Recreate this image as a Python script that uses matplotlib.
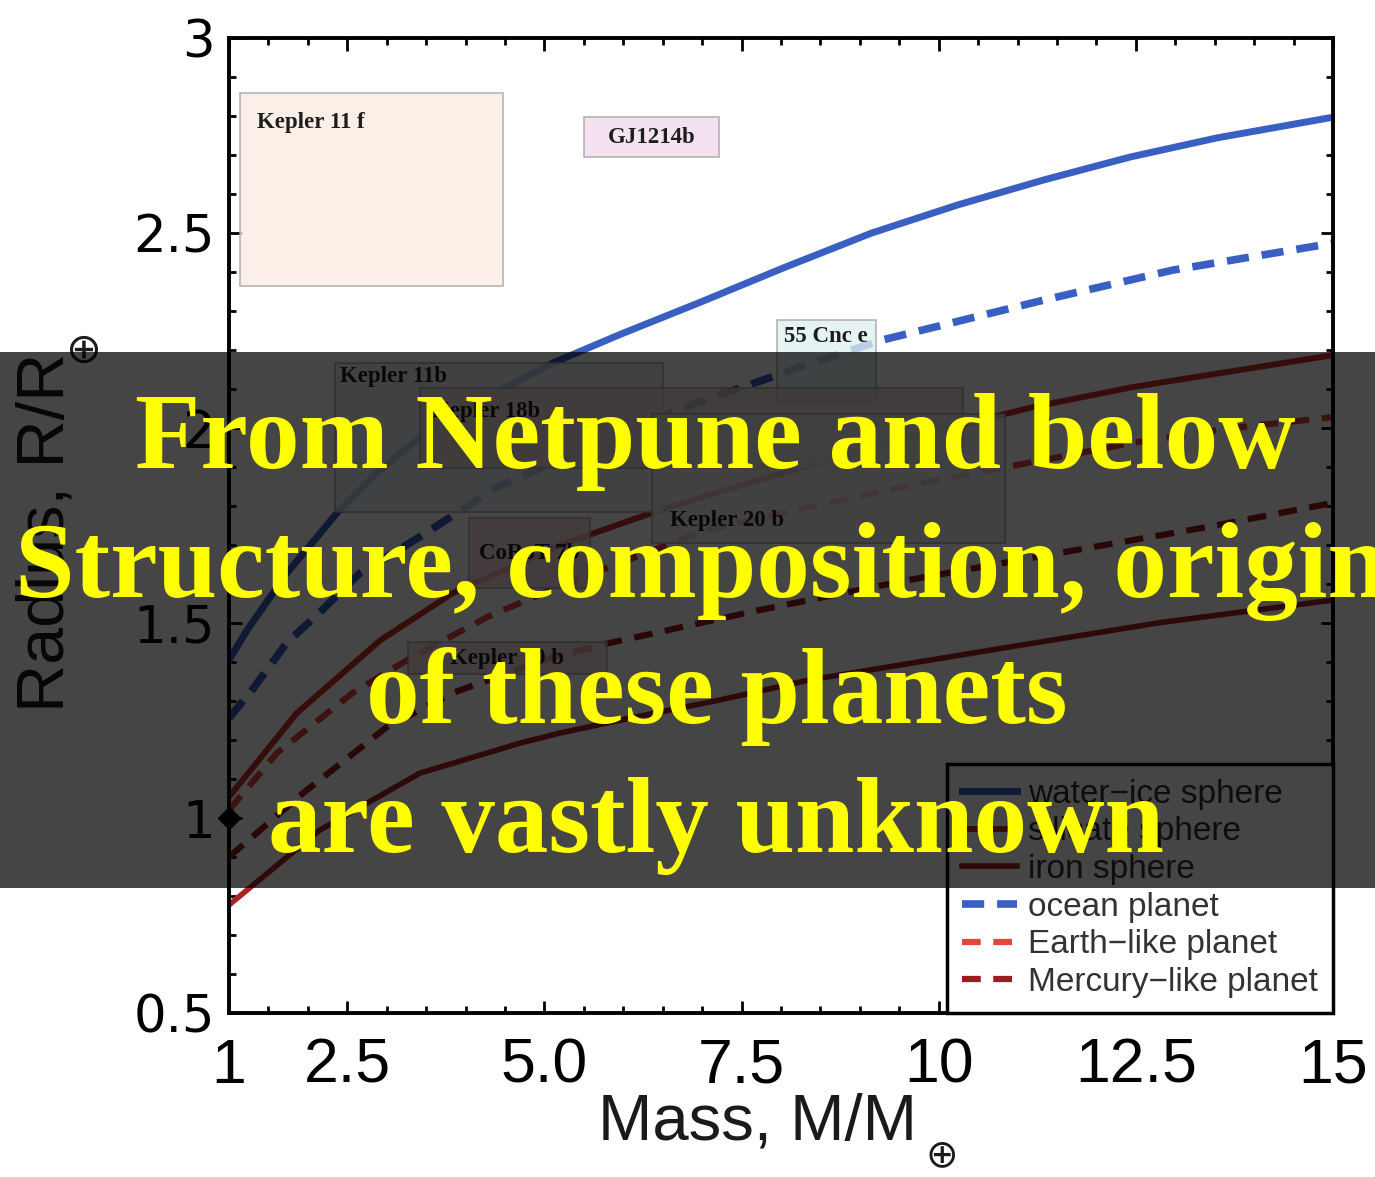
import matplotlib.pyplot as plt
from matplotlib.patches import Rectangle
from matplotlib.ticker import MultipleLocator, FixedLocator

# mass-radius curves (mass in M_earth, radius in R_earth)
ice_m = [1.0, 1.23, 1.735, 2.37, 2.915, 3.42, 4.27, 5.11, 5.96, 6.97, 8.06, 9.15,
         10.24, 11.33, 12.43, 13.53, 15.0]
ice_r = [1.405, 1.482, 1.628, 1.782, 1.892, 1.975, 2.079, 2.167, 2.24, 2.322, 2.413, 2.50,
         2.572, 2.636, 2.695, 2.744, 2.797]

sil_m = [1.0, 1.86, 2.92, 3.84, 5.2, 6.4, 7.72, 9.51, 11.20, 12.46, 15.0]
sil_r = [1.054, 1.269, 1.456, 1.577, 1.70, 1.785, 1.867, 1.969, 2.054, 2.105, 2.187]

iron_m = [1.0, 2.15, 3.42, 4.69, 5.2, 5.96, 7.23, 8.36, 10.88, 12.77, 15.0]
iron_r = [0.777, 0.969, 1.115, 1.192, 1.218, 1.251, 1.303, 1.354, 1.438, 1.50, 1.559]

ocean_m = [1.0, 1.30, 1.735, 2.12, 2.66, 3.42, 4.40, 6.68, 8.24, 9.29, 11.33, 12.97, 15.0]
ocean_r = [1.256, 1.33, 1.45, 1.521, 1.628, 1.721, 1.849, 2.046, 2.156, 2.226, 2.328, 2.405, 2.474]

earth_m = [1.0, 1.61, 2.57, 3.26, 4.27, 5.2, 7.0, 8.2, 9.64, 10.99, 12.46, 13.73, 15.0]
earth_r = [1.02, 1.167, 1.321, 1.405, 1.515, 1.595, 1.735, 1.79, 1.853, 1.905, 1.962, 2.0, 2.028]

merc_m = [1.0, 1.94, 3.00, 3.84, 5.11, 5.83, 7.72, 9.61, 11.51, 13.40, 15.0]
merc_r = [0.90, 1.064, 1.233, 1.321, 1.413, 1.449, 1.533, 1.61, 1.679, 1.746, 1.808]

# planet uncertainty boxes
planets = ["Kepler 11 f", "GJ1214b", "55 Cnc e", "Kepler 11b", "Kepler 18b",
           "Kepler 20 b", "CoRoT 7b", "Kepler 10 b"]
m_lo = [1.14, 5.50, 7.95, 2.34, 3.42, 6.36, 4.04, 3.27]
m_hi = [4.47, 7.21, 9.20, 6.50, 10.31, 10.84, 5.58, 5.79]
r_lo = [2.364, 2.695, 2.067, 1.785, 1.897, 1.705, 1.590, 1.369]
r_hi = [2.859, 2.797, 2.277, 2.167, 2.103, 2.036, 1.769, 1.451]

xticks = [1, 2.5, 5, 7.5, 10, 12.5, 15]
xlabels = ["1", "2.5", "5.0", "7.5", "10", "12.5", "15"]
yticks = [0.5, 1, 1.5, 2, 2.5, 3]
ylabels = ["0.5", "1", "1.5", "2", "2.5", "3"]

overlay_lines = ["From Netpune and below", "Structure, composition, origin",
                 "of these planets", "are vastly unknown"]

# styles
blue = "#3a5fc2"
box_fill = ["#fbebe1", "#f3dbec", "#def0f0", "#e9eef2", "#f3d9d9",
            "#eeeeee", "#f6d6d6", "#f6d6d6"]
# where the label sits in its box: top-left, centre or bottom-left
box_anchor = ["tl", "c", "tl", "tl", "tl", "bl", "c", "c"]
label_off = [(12, -21), (0, 0), (5, -12), (4, -10), (9, -17), (13, 16), (0, 0), (0, 0)]

fig = plt.figure(figsize=(13.75, 11.77), dpi=100)
ax = fig.add_axes([0.1665, 0.1393, 0.803, 0.8284])

common = dict(solid_joinstyle="round", dash_joinstyle="round", zorder=2)
ax.plot(ice_m, ice_r, color=blue, lw=5, label="water−ice sphere", **common)
ax.plot(sil_m, sil_r, color="#c8302a", lw=4.3, label="silicate sphere", **common)
ax.plot(iron_m, iron_r, color="#a82424", lw=4.0, label="iron sphere", **common)
ax.plot(ocean_m, ocean_r, color=blue, lw=5.5, ls=(0, (2.9, 1.7)), label="ocean planet", **common)
ax.plot(earth_m, earth_r, color="#e5453b", lw=4.5, ls=(0, (3.0, 2.0)), label="Earth−like planet", **common)
ax.plot(merc_m, merc_r, color="#9a1d1d", lw=4.5, ls=(0, (3.0, 2.0)), label="Mercury−like planet", **common)

# the Earth itself
ax.plot([1], [1], marker="D", color="black", ms=11, clip_on=False, zorder=6)

for i in range(len(planets)):
    ax.add_patch(Rectangle((m_lo[i], r_lo[i]), m_hi[i] - m_lo[i], r_hi[i] - r_lo[i],
                           facecolor=box_fill[i], edgecolor="#a8a8a8", lw=1.3,
                           alpha=0.78, zorder=3))
    if box_anchor[i] == "tl":
        xy, ha, va = (m_lo[i], r_hi[i]), "left", "center"
    elif box_anchor[i] == "bl":
        xy, ha, va = (m_lo[i], r_lo[i]), "left", "center"
    else:
        xy, ha, va = ((m_lo[i] + m_hi[i]) / 2, (r_lo[i] + r_hi[i]) / 2), "center", "center"
    ax.annotate(planets[i], xy=xy, xytext=label_off[i], textcoords="offset points",
                ha=ha, va=va, fontsize=16.5, fontweight="bold",
                family="Liberation Serif", color="#1e1e1e", zorder=4)

ax.set_xlim(1, 15)
ax.set_ylim(0.5, 3)
ax.xaxis.set_major_locator(FixedLocator(xticks))
ax.xaxis.set_minor_locator(MultipleLocator(0.5))
ax.yaxis.set_major_locator(FixedLocator(yticks))
ax.yaxis.set_minor_locator(MultipleLocator(0.1))
ax.set_xticklabels(xlabels, family="Liberation Sans", fontsize=45)
ax.set_yticklabels(ylabels, family="DejaVu Sans", fontsize=37)
ax.tick_params(which="both", direction="in", top=True, right=True, width=2, color="black")
ax.tick_params(which="major", length=9)
ax.tick_params(which="minor", length=5)
ax.tick_params(axis="x", pad=17)
ax.tick_params(axis="y", pad=10)
for s in ax.spines.values():
    s.set_linewidth(2.8)

# axis titles, the earth symbol is set as a low subscript like in the original
ax.set_xlabel("Mass, M/M", family="Liberation Sans", fontsize=47, color="#1a1a1a")
ax.set_ylabel("Radius, R/R", family="Liberation Sans", fontsize=48, color="#1a1a1a")
ax.xaxis.set_label_coords(0.479, -0.082)
ax.yaxis.set_label_coords(-0.137, 0.493)
ax.text(0.6458, -0.146, "⊕", transform=ax.transAxes, ha="center", va="center",
        fontsize=28, family="DejaVu Sans", color="#1a1a1a", clip_on=False)
ax.text(-0.1332, 0.685, "⊕", transform=ax.transAxes, ha="center", va="center",
        rotation=90, fontsize=30, family="DejaVu Sans", color="#1a1a1a", clip_on=False)

leg = ax.legend(loc="lower right", bbox_to_anchor=(1.0, 0.0), borderaxespad=0,
                fancybox=False, framealpha=1, edgecolor="black",
                prop={"family": "Liberation Sans", "size": 24},
                handlelength=1.65, handletextpad=0.35, labelspacing=0.2,
                borderpad=0.45)
leg.get_frame().set_linewidth(2.5)
leg.set_zorder(5)
for t in leg.get_texts():
    t.set_color("#333333")

# dark banner with the slide text on top of the chart
fig.patches.append(Rectangle((0, 0.2455), 1, 0.4554, transform=fig.transFigure,
                             facecolor="black", alpha=0.73, zorder=10))
text_x = [0.52, 0.0109, 0.5215, 0.5207]
text_ha = ["center", "left", "center", "center"]
text_y = [0.6024, 0.4928, 0.3857, 0.2761]
for i in range(len(overlay_lines)):
    fig.text(text_x[i], text_y[i], overlay_lines[i], ha=text_ha[i], va="baseline",
             fontsize=77, fontweight="bold", family="Liberation Serif",
             color="#ffff00", zorder=11)

fig.savefig("out.png", dpi=100, facecolor="white")
